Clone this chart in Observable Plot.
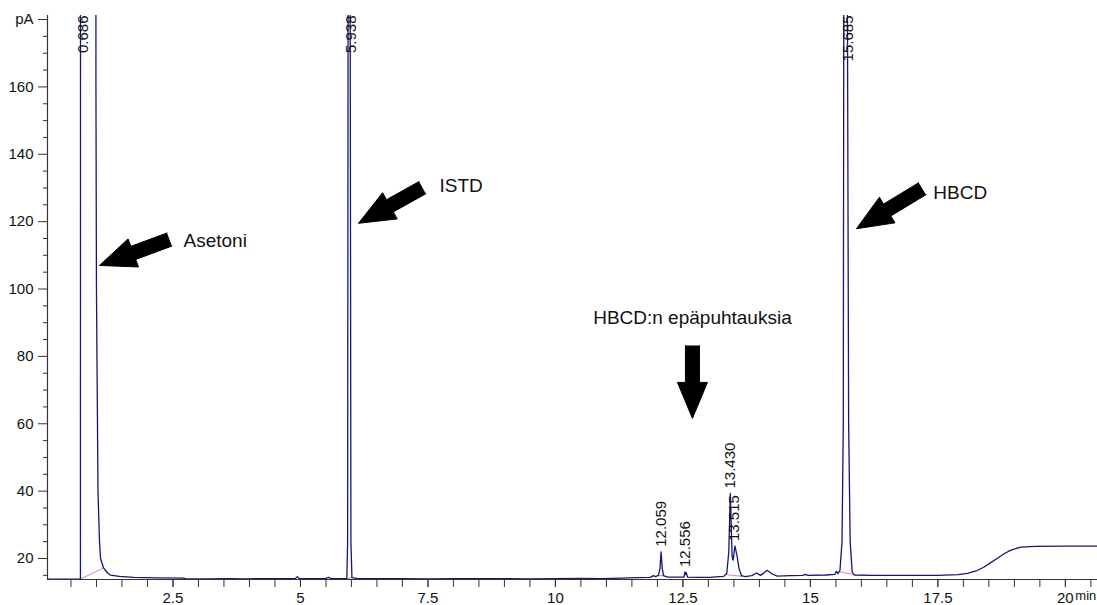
<!DOCTYPE html>
<html>
<head>
<meta charset="utf-8">
<script src="https://cdn.jsdelivr.net/npm/d3@7"></script>
<script src="https://cdn.jsdelivr.net/npm/@observablehq/plot@0.6"></script>
<style>
  html, body { margin: 0; padding: 0; background: #fff; }
  #chart svg { display: block; }
</style>
</head>
<body>
<div id="chart"></div>
<script>
// ---------- data ----------
// chromatogram trace: [time (min), signal (pA)]
const trace = [
  [0.04,13.9],[0.3,13.85],[0.5,13.9],[0.66,13.9],[0.686,13.95],[0.69,600],[0.98,600],
  [0.99,160],[1.0,100],[1.01,80],[1.03,40],[1.06,25],[1.08,20],[1.14,17.2],[1.2,16.0],
  [1.27,15.1],[1.45,14.7],[1.73,14.4],[2.2,14.25],[2.7,14.15],[2.75,14.0],[3.2,13.95],
  [3.6,14.05],[3.9,13.95],[4.3,14.05],[4.7,14.0],[4.9,14.1],[4.94,14.6],[4.98,14.1],
  [5.3,14.0],[5.5,14.1],[5.55,14.4],[5.6,14.1],[5.8,14.0],[5.91,14.0],[5.925,25],
  [5.935,190],[5.945,600],[5.975,190],[5.99,25],[6.01,14.3],[6.1,14.1],[6.5,14.0],
  [7.0,14.05],[7.5,13.95],[8.0,14.05],[8.5,14.0],[9.0,14.05],[9.5,13.95],[10.0,14.0],
  [10.5,14.1],[10.9,14.0],[11.3,14.2],[11.6,14.3],[11.86,14.4],[11.92,14.9],[11.96,14.6],
  [12.02,15.0],[12.05,17.0],[12.072,22.0],[12.095,17.0],[12.12,14.9],[12.2,14.5],
  [12.4,14.5],[12.52,14.5],[12.54,16.0],[12.555,15.2],[12.565,15.8],[12.59,14.5],
  [12.8,14.4],[13.04,14.4],[13.2,14.6],[13.3,14.7],[13.36,15.6],[13.40,22.0],[13.43,39.3],
  [13.465,20.5],[13.485,19.5],[13.52,23.7],[13.56,21.0],[13.60,17.0],[13.65,14.9],
  [13.72,14.6],[13.85,14.9],[13.95,15.7],[14.02,15.0],[14.08,15.6],[14.15,16.5],
  [14.25,15.4],[14.35,14.8],[14.6,14.9],[14.85,15.0],[14.9,15.3],[14.95,15.0],[15.3,15.1],
  [15.48,15.3],[15.51,16.2],[15.54,15.5],[15.58,16.5],[15.62,25],[15.645,60],[15.655,190],
  [15.69,600],[15.725,190],[15.75,60],[15.78,25],[15.82,16],[15.86,15.1],[16.2,15.0],
  [16.8,15.0],[17.5,15.0],[17.9,15.2],[18.08,15.6],[18.25,16.3],[18.4,17.4],[18.53,18.7],
  [18.66,20.0],[18.8,21.4],[18.92,22.4],[19.12,23.4],[19.4,23.6],[20.0,23.7],[20.63,23.7]
];

// integration baselines (pink): [t1, v1, t2, v2]
const baselines = [
  [0.686,13.9,1.14,17.2],
  [5.91,14.0,6.01,14.3],
  [12.02,14.9,12.12,14.9],
  [13.34,15.2,13.67,14.7],
  [15.58,16.0,15.84,15.3]
];

// retention-time labels
const peakLabels = ["0.686","5.938","12.059","12.556","13.430","13.515","15.685"];
const peakTimes  = [0.686, 5.938, 12.065, 12.55, 13.43, 13.515, 15.685];
const peakApex   = [null, null, 22.0, 16.0, 39.3, 23.7, null]; // null = off scale

// annotations
const sideNotes = ["Asetoni", "ISTD", "HBCD"];
const sideNoteT = [2.707, 7.726, 17.41];
const sideNoteV = [114.4, 130.6, 128.5];
const topNote = "HBCD:n epäpuhtauksia";
const topNoteT = 12.687, topNoteV = 91.5;

// arrows: tail (t,v) -> tip (t,v)
const arrowTail = [[2.432,114.7],[7.393,130.1],[17.196,129.8],[12.687,83.2]];
const arrowTip  = [[1.06,107.0],[6.138,119.5],[15.903,117.9],[12.687,61.6]];

// axis ticks
const xMajor = [2.5,5,7.5,10,12.5,15,17.5,20];
const xMajorLabels = ["2.5","5","7.5","10","12.5","15","17.5","20"];
const xMinor = d3.range(0.5, 20.6, 0.5);
const yMajor = [20,40,60,80,100,120,140,160,180];
const yMajorLabels = ["20","40","60","80","100","120","140","160","pA"];
const yMinor = d3.range(15, 180, 5).filter(d => d % 20 !== 0);

// ---------- layout ----------
const W = 1097, H = 605, mL = 47, mR = 0, mT = 15, mB = 26;
const xDom = [0.04, 20.63], yDom = [13.77, 181.2];
const pxX = (W - mL - mR) / (xDom[1] - xDom[0]);
const pxY = (H - mT - mB) / (yDom[1] - yDom[0]);

const traceData = trace.map(([t, v]) => ({t, v}));
const baseData = baselines.map(([t1, v1, t2, v2]) => ({t1, v1, t2, v2}));

const peaks = peakLabels.map((label, i) => ({label, t: peakTimes[i], apex: peakApex[i]}));
const onScale = peaks.filter(p => p.apex != null);
const offScale = peaks.filter(p => p.apex == null);

const notes = sideNotes.map((text, i) => ({text, t: sideNoteT[i], v: sideNoteV[i]}));

// block arrow polygons (shape sized in pixels, converted to data units)
const headL = 36, headHW = 15, shaftHW = 7;
const arrowPts = [];
arrowTail.forEach((tail, i) => {
  const tip = arrowTip[i];
  const dx = (tip[0] - tail[0]) * pxX, dy = -(tip[1] - tail[1]) * pxY;
  const L = Math.hypot(dx, dy);
  const ux = dx / L, uy = dy / L, nx = -uy, ny = ux;
  const b = L - headL;
  const pts = [
    [nx * shaftHW, ny * shaftHW],
    [ux * b + nx * shaftHW, uy * b + ny * shaftHW],
    [ux * b + nx * headHW, uy * b + ny * headHW],
    [dx, dy],
    [ux * b - nx * headHW, uy * b - ny * headHW],
    [ux * b - nx * shaftHW, uy * b - ny * shaftHW],
    [-nx * shaftHW, -ny * shaftHW]
  ];
  pts.forEach(([px, py]) => arrowPts.push({id: i, t: tail[0] + px / pxX, v: tail[1] - py / pxY}));
});

const font = "'Liberation Sans', Arial, Helvetica, sans-serif";

const chart = Plot.plot({
  width: W, height: H,
  marginLeft: mL, marginRight: mR, marginTop: mT, marginBottom: mB,
  x: {domain: xDom, label: null},
  y: {domain: yDom, label: null},
  style: {fontFamily: font, background: "#fff", color: "#111", overflow: "visible"},
  marks: [
    // axes
    Plot.axisX({ticks: xMinor, tickSize: 8, tickFormat: () => "", stroke: "#333"}),
    Plot.axisX({ticks: xMajor, tickSize: 8, tickPadding: 5, fontSize: 15, stroke: "#333", fill: "#111",
                tickFormat: d => xMajorLabels[xMajor.indexOf(d)]}),
    Plot.axisY({ticks: yMinor, tickSize: 4, tickFormat: () => "", stroke: "#333"}),
    Plot.axisY({ticks: yMajor, tickSize: 9, tickPadding: 5, fontSize: 15, stroke: "#333", fill: "#111",
                tickFormat: d => yMajorLabels[yMajor.indexOf(d)]}),
    Plot.ruleY([yDom[0]], {stroke: "#333", strokeWidth: 1.2}),
    Plot.ruleX([xDom[0]], {stroke: "#333", strokeWidth: 1.2}),
    Plot.text(["min"], {x: 20, frameAnchor: "bottom", dy: 20, dx: 10, textAnchor: "start", fontSize: 13, fill: "#111"}),

    // integration baselines
    Plot.link(baseData, {x1: "t1", y1: "v1", x2: "t2", y2: "v2", stroke: "#e07ac0", strokeWidth: 1, clip: true}),

    // trace
    Plot.line(traceData, {x: "t", y: "v", stroke: "#16167a", strokeWidth: 1.3, clip: true}),

    // retention time labels
    Plot.text(onScale, {x: "t", y: "apex", text: "label", rotate: -90, textAnchor: "start",
                        dy: -5, dx: 0, fontSize: 15, fill: "#111"}),
    Plot.text(offScale, {x: "t", frameAnchor: "top", text: "label", rotate: -90, textAnchor: "end",
                         dx: -3, fontSize: 15, fill: "#111"}),

    // arrows
    Plot.line(arrowPts, {x: "t", y: "v", z: "id", fill: "#000", stroke: "#000", strokeWidth: 1}),

    // annotation texts
    Plot.text(notes, {x: "t", y: "v", text: "text", textAnchor: "start", fontSize: 19, fill: "#111"}),
    Plot.text([topNote], {x: topNoteT, y: topNoteV, textAnchor: "middle", fontSize: 19, fill: "#111"})
  ]
});

document.getElementById("chart").appendChild(chart);
</script>
</body>
</html>
